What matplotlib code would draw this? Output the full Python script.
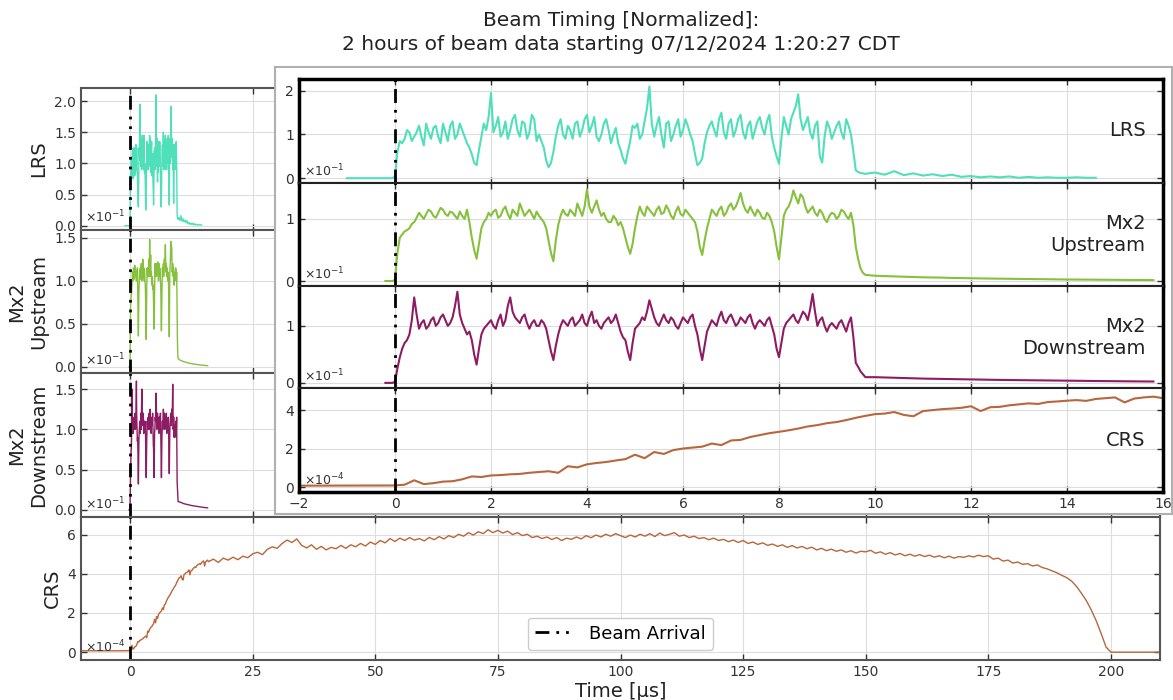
import numpy as np
import matplotlib
matplotlib.use("Agg")
import matplotlib.pyplot as plt

plt.rcParams["font.family"] = ["DejaVu Sans"]

# ---- data ----
# beam window, 0.0 .. 9.8 us every 0.1 us, plus the half steps 0.05 .. 9.75 us
t_beam = np.linspace(0.0, 9.8, 99)
t_mid = np.linspace(0.05, 9.75, 98)

lrs_beam = [
    0.05, 0.85, 0.90, 1.05, 0.95, 1.20, 0.75, 1.05, 1.15, 0.95,
    1.25, 0.85, 1.30, 1.00, 1.10, 0.80, 0.55, 0.30, 0.95, 1.10,
    1.95, 1.20, 0.95, 1.30, 1.10, 1.45, 0.95, 1.25, 1.05, 1.35,
    1.00, 0.70, 0.25, 0.60, 1.20, 1.00, 1.20, 0.90, 1.30, 1.10,
    1.45, 1.20, 0.95, 1.00, 1.35, 0.80, 1.15, 0.65, 0.33, 0.85,
    1.15, 0.90, 1.30, 2.10, 0.95, 1.40, 0.70, 1.30, 1.00, 1.35,
    1.10, 1.20, 0.85, 0.30, 0.45, 1.05, 1.30, 0.95, 1.50, 0.90,
    1.35, 1.10, 1.45, 0.90, 1.30, 1.10, 1.40, 1.00, 1.45, 0.70,
    0.33, 1.40, 1.00, 1.50, 1.92, 1.10, 1.40, 0.90, 1.30, 0.36,
    1.30, 0.90, 1.20, 1.05, 1.35, 1.00, 0.18, 0.12, 0.10,
]
lrs_mid = [
    0.60, 0.80, 1.10, 0.85, 1.05, 0.95, 1.25, 0.90, 1.20, 0.80,
    1.05, 1.20, 0.90, 1.25, 0.95, 0.70, 0.35, 0.65, 1.25, 1.40,
    1.05, 1.40, 1.05, 0.90, 1.35, 1.10, 1.30, 0.90, 1.45, 0.85,
    0.85, 0.40, 0.35, 0.95, 1.35, 0.90, 1.10, 1.25, 0.95, 1.35,
    1.05, 1.40, 0.85, 1.25, 1.10, 1.00, 0.80, 0.45, 0.60, 1.20,
    1.25, 1.00, 1.60, 1.25, 1.20, 1.00, 1.25, 0.85, 1.20, 0.95,
    1.35, 1.00, 0.55, 0.35, 0.80, 1.20, 1.10, 1.35, 1.05, 1.25,
    0.95, 1.35, 1.05, 1.20, 0.90, 1.30, 1.15, 1.30, 0.95, 0.50,
    0.90, 1.20, 1.35, 1.65, 1.35, 1.25, 1.05, 1.20, 0.50, 0.95,
    1.15, 1.05, 1.30, 0.90, 1.20, 0.60, 0.14, 0.11,
]
up_beam = [
    0.02, 0.70, 0.80, 0.85, 0.95, 1.10, 1.00, 1.15, 1.05, 1.10,
    1.15, 1.05, 1.10, 1.00, 1.05, 1.15, 0.70, 0.36, 0.85, 1.00,
    1.05, 1.15, 1.05, 1.20, 1.00, 1.10, 1.25, 1.05, 1.15, 1.00,
    1.05, 0.95, 0.65, 0.32, 0.90, 1.15, 1.05, 1.10, 1.25, 1.05,
    1.48, 1.10, 1.30, 1.05, 1.00, 0.95, 1.00, 0.95, 0.70, 0.44,
    0.85, 1.20, 1.05, 1.15, 1.05, 1.20, 1.10, 1.15, 1.00, 1.20,
    1.05, 1.10, 1.00, 0.80, 0.42, 0.85, 1.15, 1.05, 1.20, 1.10,
    1.25, 1.20, 1.42, 1.15, 1.20, 1.05, 1.10, 1.00, 1.05, 0.80,
    0.35, 1.05, 1.20, 1.46, 1.25, 1.35, 1.10, 1.20, 1.05, 1.10,
    0.95, 1.10, 1.00, 1.15, 1.05, 1.10, 0.55, 0.20, 0.10,
]
up_mid = [
    0.45, 0.75, 0.82, 0.92, 1.02, 1.05, 1.08, 1.12, 1.02, 1.18,
    1.08, 1.12, 1.05, 1.12, 1.00, 0.95, 0.50, 0.60, 0.95, 1.10,
    1.12, 1.02, 1.15, 1.08, 1.15, 1.05, 1.15, 1.10, 1.08, 1.12,
    1.00, 0.85, 0.45, 0.65, 1.05, 1.08, 1.15, 1.05, 1.15, 1.20,
    1.20, 1.20, 1.15, 1.10, 0.95, 1.05, 0.90, 0.85, 0.55, 0.60,
    1.05, 1.10, 1.20, 1.10, 1.15, 1.08, 1.22, 1.05, 1.12, 1.08,
    1.15, 1.05, 0.95, 0.55, 0.65, 1.00, 1.10, 1.15, 1.05, 1.20,
    1.15, 1.30, 1.25, 1.10, 1.12, 1.15, 1.02, 1.10, 0.95, 0.55,
    0.70, 1.15, 1.30, 1.35, 1.40, 1.20, 1.15, 1.10, 1.15, 1.00,
    1.05, 1.08, 1.05, 1.12, 1.00, 0.90, 0.35, 0.13,
]
down_beam = [
    0.02, 0.45, 0.70, 0.85, 1.50, 0.95, 1.10, 1.00, 1.15, 1.05,
    1.20, 1.00, 1.15, 1.60, 1.05, 0.85, 0.75, 0.32, 0.85, 1.00,
    1.10, 0.95, 1.20, 1.10, 1.50, 1.15, 1.05, 1.20, 0.95, 1.10,
    1.00, 1.05, 0.75, 0.40, 0.85, 1.10, 1.00, 1.15, 1.05, 1.20,
    1.00, 1.25, 1.10, 0.95, 1.10, 1.05, 1.20, 0.90, 0.75, 0.40,
    0.95, 1.05, 1.10, 1.45, 1.15, 1.00, 1.20, 1.05, 1.10, 0.95,
    1.15, 1.05, 1.20, 0.85, 0.40, 0.90, 1.10, 1.00, 1.25, 1.05,
    1.20, 1.00, 1.15, 1.05, 1.20, 0.95, 1.10, 1.00, 1.15, 0.85,
    0.45, 0.95, 1.10, 1.20, 1.05, 1.25, 1.10, 1.56, 1.00, 1.15,
    0.90, 1.05, 0.95, 1.10, 0.90, 1.15, 0.35, 0.20, 0.10,
]
down_mid = [
    0.25, 0.60, 0.75, 1.10, 1.20, 1.05, 0.95, 1.10, 1.00, 1.15,
    1.10, 1.05, 1.35, 1.20, 0.95, 0.90, 0.50, 0.60, 0.95, 1.05,
    1.00, 1.10, 1.00, 1.35, 1.25, 1.10, 1.15, 1.05, 1.05, 1.00,
    1.10, 0.95, 0.55, 0.65, 1.00, 1.05, 1.10, 1.00, 1.10, 1.05,
    1.15, 1.05, 1.00, 1.05, 1.15, 1.10, 1.05, 0.80, 0.55, 0.70,
    1.00, 1.15, 1.25, 1.30, 1.05, 1.10, 1.10, 1.15, 1.00, 1.05,
    1.10, 1.15, 1.00, 0.60, 0.65, 1.00, 1.05, 1.15, 1.10, 1.15,
    1.10, 1.05, 1.10, 1.15, 1.05, 1.05, 1.05, 1.10, 1.00, 0.60,
    0.70, 1.05, 1.15, 1.10, 1.15, 1.20, 1.30, 1.25, 1.10, 1.00,
    1.00, 1.00, 1.05, 1.00, 1.05, 0.80, 0.28, 0.15,
]

# tails after the beam window
lrs_tail_t = np.linspace(10.0, 14.6, 24)
lrs_tail = [0.13, 0.08, 0.16, 0.07, 0.11, 0.06, 0.09, 0.05, 0.08, 0.03,
            0.05, 0.02, 0.04, 0.02, 0.04, 0.01, 0.03, 0.01, 0.02, 0.01,
            0.01, 0.02, 0.01, 0.01]
mx2_tail_t = np.linspace(10.0, 15.8, 30)
up_tail = [0.085, 0.080, 0.075, 0.070, 0.065, 0.060, 0.058, 0.055, 0.050, 0.048,
           0.045, 0.042, 0.040, 0.038, 0.036, 0.034, 0.032, 0.030, 0.028, 0.027,
           0.025, 0.024, 0.022, 0.021, 0.020, 0.019, 0.018, 0.017, 0.016, 0.015]
down_tail = [0.100, 0.095, 0.090, 0.085, 0.080, 0.075, 0.072, 0.068, 0.065, 0.062,
             0.060, 0.057, 0.055, 0.052, 0.050, 0.048, 0.046, 0.044, 0.042, 0.040,
             0.038, 0.036, 0.034, 0.032, 0.031, 0.030, 0.028, 0.026, 0.025, 0.024]

# CRS: 0 .. 15.8 us every 0.2 us, then 16 .. 200 us every 1 us
crs_fine_t = np.linspace(0.0, 15.8, 80)
crs_fine = [
    0.08, 0.12, 0.35, 0.15, 0.20, 0.28, 0.30, 0.40, 0.55, 0.52,
    0.60, 0.62, 0.66, 0.68, 0.74, 0.78, 0.82, 0.74, 1.08, 1.02,
    1.18, 1.25, 1.30, 1.38, 1.45, 1.68, 1.50, 1.82, 1.72, 1.92,
    2.00, 2.05, 2.10, 2.26, 2.18, 2.42, 2.45, 2.60, 2.70, 2.80,
    2.87, 2.95, 3.04, 3.15, 3.22, 3.32, 3.38, 3.48, 3.60, 3.70,
    3.79, 3.82, 3.90, 3.75, 3.68, 3.95, 4.00, 4.05, 4.08, 4.12,
    4.20, 3.95, 4.15, 4.17, 4.25, 4.30, 4.35, 4.32, 4.42, 4.45,
    4.49, 4.52, 4.48, 4.58, 4.62, 4.66, 4.40, 4.60, 4.66, 4.70,
]
crs_coarse_t = np.arange(16, 201)
crs_coarse = [
    4.62, 4.75, 4.58, 4.80, 4.70, 4.85, 4.72, 4.90, 4.82, 5.02,
    5.10, 4.98, 5.25, 5.38, 5.30, 5.55, 5.72, 5.60, 5.78, 5.45,
    5.32, 5.48, 5.25, 5.40, 5.22, 5.35, 5.28, 5.45, 5.30, 5.48,
    5.38, 5.55, 5.42, 5.62, 5.50, 5.70, 5.58, 5.80, 5.65, 5.82,
    5.70, 5.85, 5.72, 5.80, 5.68, 5.86, 5.74, 5.90, 5.78, 5.95,
    5.85, 6.02, 5.92, 6.10, 5.98, 6.15, 6.05, 6.25, 6.10, 6.22,
    6.08, 6.18, 6.00, 6.10, 5.95, 6.02, 5.85, 5.92, 5.80, 5.88,
    5.75, 5.85, 5.70, 5.82, 5.76, 5.88, 5.78, 5.95, 5.84, 5.98,
    5.88, 6.02, 5.92, 6.05, 5.95, 5.85, 5.98, 5.88, 6.02, 5.92,
    6.05, 5.90, 6.08, 5.95, 6.02, 6.10, 5.92, 5.98, 5.85, 5.92,
    5.80, 5.85, 5.74, 5.82, 5.70, 5.76, 5.64, 5.72, 5.60, 5.70,
    5.55, 5.62, 5.50, 5.58, 5.45, 5.52, 5.40, 5.48, 5.35, 5.44,
    5.32, 5.40, 5.28, 5.36, 5.22, 5.30, 5.18, 5.26, 5.15, 5.22,
    5.10, 5.18, 5.06, 5.15, 5.12, 5.20, 5.05, 5.12, 5.00, 5.08,
    4.96, 5.04, 4.92, 5.00, 4.90, 4.98, 4.88, 4.95, 4.85, 4.92,
    4.82, 4.90, 4.80, 4.88, 4.84, 4.92, 4.86, 4.95, 4.88, 4.92,
    4.75, 4.80, 4.65, 4.70, 4.55, 4.60, 4.48, 4.52, 4.40, 4.45,
    4.32, 4.25, 4.15, 4.05, 3.92, 3.80, 3.62, 3.35, 3.00, 2.62,
    2.15, 1.60, 0.95, 0.26, 0.00,
]


def merge(t_a, v_a, t_b, v_b):
    # interleave two sampled series into one, sorted by time
    t = np.concatenate([t_a, t_b])
    v = np.concatenate([v_a, v_b])
    order = np.argsort(t)
    return t[order], v[order]


lrs_bt, lrs_bv = merge(t_beam, lrs_beam, t_mid, lrs_mid)
up_bt, up_bv = merge(t_beam, up_beam, t_mid, up_mid)
down_bt, down_bv = merge(t_beam, down_beam, t_mid, down_mid)

lrs_t = np.concatenate([[-1.0, -0.05], lrs_bt, lrs_tail_t])
lrs_v = np.concatenate([[0.0, 0.0], lrs_bv, lrs_tail])
up_t = np.concatenate([[-0.2, -0.05], up_bt, mx2_tail_t])
up_v = np.concatenate([[0.0, 0.0], up_bv, up_tail])
down_t = np.concatenate([[-0.2, -0.05], down_bt, mx2_tail_t])
down_v = np.concatenate([[0.0, 0.0], down_bv, down_tail])
crs_t = np.concatenate([[-10, -2, -0.2], crs_fine_t, crs_coarse_t, [205, 210]])
crs_v = np.concatenate([[0.07, 0.07, 0.08], crs_fine, crs_coarse, [0.0, 0.0]])

c_lrs = "#4fe0b9"
c_up = "#86c03c"
c_down = "#8e1c62"
c_crs = "#b8663b"
beam_ls = (0, (5, 2.5, 1, 2.5, 1, 2.5))

W, H = 1173, 700


def rect(x0, y0, x1, y1):
    # pixel box -> figure fraction
    return [x0 / W, (H - y1) / H, (x1 - x0) / W, (y1 - y0) / H]


def style(ax, spine_c="#555555", lw=1.5):
    ax.grid(True, color="#dddddd", lw=0.8)
    ax.set_axisbelow(True)
    ax.tick_params(direction="in", top=True, right=True, length=4,
                   labelsize=10, colors="#333333", width=1)
    for s in ax.spines.values():
        s.set_color(spine_c)
        s.set_linewidth(lw)


fig = plt.figure(figsize=(W / 100, H / 100), dpi=100)

# ---- main (left + bottom) panels ----
rows = [
    (lrs_t, lrs_v, c_lrs, "LRS", (-0.07, 2.21), [0, 0.5, 1.0, 1.5, 2.0], r"$\times10^{-1}$", 88, 230),
    (up_t, up_v, c_up, "Mx2\nUpstream", (-0.07, 1.59), [0, 0.5, 1.0, 1.5], r"$\times10^{-1}$", 230, 373),
    (down_t, down_v, c_down, "Mx2\nDownstream", (-0.09, 1.70), [0, 0.5, 1.0, 1.5], r"$\times10^{-1}$", 373, 517),
    (crs_t, crs_v, c_crs, "CRS", (-0.4, 6.9), [0, 2, 4, 6], r"$\times10^{-4}$", 517, 660),
]
main_axes = []
for t, v, c, lab, ylim, yt, mult, y0, y1 in rows:
    ax = fig.add_axes(rect(81, y0, 1160, y1))
    style(ax)
    ax.plot(t, v, color=c, lw=1.0)
    ax.axvline(0, color="k", lw=2, ls=beam_ls, label="Beam Arrival")
    ax.set_xlim(-10, 210)
    ax.set_ylim(*ylim)
    ax.set_yticks(yt)
    ax.set_xticks(range(0, 201, 25))
    ax.set_ylabel(lab, fontsize=14, color="#222222")
    ax.text(0.004, 0.035, mult, transform=ax.transAxes, fontsize=9,
            color="#333333", va="bottom")
    main_axes.append(ax)

for ax in main_axes[:3]:
    ax.tick_params(labelbottom=False)
    ax.yaxis.set_major_formatter(matplotlib.ticker.FormatStrFormatter("%.1f"))
bottom = main_axes[3]
bottom.set_xlabel("Time [µs]", fontsize=14, color="#222222", labelpad=2)
bottom.legend(loc="lower center", bbox_to_anchor=(0.5, 0.07), fontsize=13,
              handlelength=2.2, framealpha=1, edgecolor="#cccccc",
              borderaxespad=0)
fig.align_ylabels(main_axes)

# ---- inset zoom on -2 .. 16 us ----
box = fig.add_axes(rect(275, 67, 1172, 514))
box.set_xticks([])
box.set_yticks([])
for s in box.spines.values():
    s.set_color("#b0b0b0")
    s.set_linewidth(1.5)
box.set_zorder(2)

inset_rows = [
    (lrs_t, lrs_v, c_lrs, "LRS", (-0.11, 2.27), [0, 1, 2], r"$\times10^{-1}$", 79, 183),
    (up_t, up_v, c_up, "Mx2\nUpstream", (-0.08, 1.58), [0, 1], r"$\times10^{-1}$", 183, 286),
    (down_t, down_v, c_down, "Mx2\nDownstream", (-0.09, 1.70), [0, 1], r"$\times10^{-1}$", 286, 388),
    (crs_t, crs_v, c_crs, "CRS", (-0.26, 5.15), [0, 2, 4], r"$\times10^{-4}$", 388, 492),
]
inset_axes = []
for i, (t, v, c, lab, ylim, yt, mult, y0, y1) in enumerate(inset_rows):
    ax = fig.add_axes(rect(299, y0, 1163, y1))
    ax.set_zorder(3)
    style(ax, spine_c="#222222", lw=1.5)
    ax.plot(t, v, color=c, lw=1.5)
    ax.axvline(0, color="k", lw=2, ls=beam_ls)
    ax.set_xlim(-2, 16)
    ax.set_ylim(*ylim)
    ax.set_yticks(yt)
    ax.set_xticks(range(-2, 17, 2))
    ax.text(0.98, 0.5, lab, transform=ax.transAxes, fontsize=14,
            ha="right", va="center", color="#222222")
    ax.text(0.006, 0.04, mult, transform=ax.transAxes, fontsize=9,
            color="#333333", va="bottom")
    ax.spines["left"].set_linewidth(2.5)
    ax.spines["right"].set_linewidth(2.5)
    ax.spines["left"].set_color("k")
    ax.spines["right"].set_color("k")
    if i == 0:
        ax.spines["top"].set_linewidth(2.5)
        ax.spines["top"].set_color("k")
    if i == 3:
        ax.spines["bottom"].set_linewidth(2.5)
        ax.spines["bottom"].set_color("k")
    else:
        ax.tick_params(labelbottom=False)
    inset_axes.append(ax)

fig.text(621 / W, 1 - 11 / H,
         "Beam Timing [Normalized]:\n2 hours of beam data starting 07/12/2024 1:20:27 CDT",
         ha="center", va="top", fontsize=14.5, color="#222222", linespacing=1.3)

fig.savefig("out.png", dpi=100)
